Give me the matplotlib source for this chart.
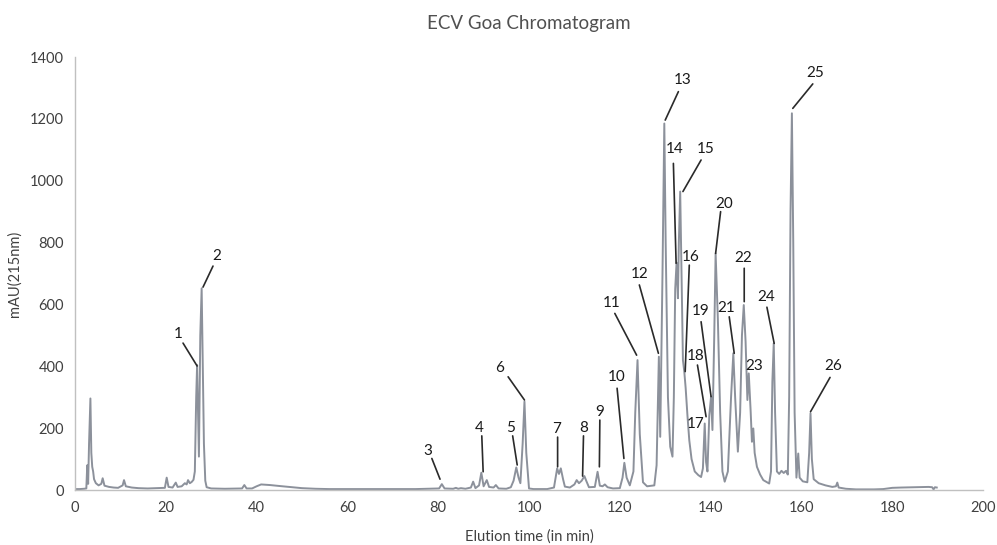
import matplotlib.pyplot as plt

# chromatogram trace (time in min, signal in mAU)
time_min = [
    0.0, 1.0, 2.0, 2.5, 2.7, 2.9, 3.1, 3.4, 3.6, 3.8, 4.0, 4.2, 4.6, 5.2, 5.8, 6.1, 6.5,
    7.5, 8.5, 9.5, 10.5, 10.8, 11.2, 12.5, 14.0, 16.0, 18.0, 19.8, 20.2, 20.6, 21.5,
    22.2, 22.6, 23.5, 24.2, 24.6, 24.9, 25.3, 25.7, 26.1, 26.4, 26.7, 26.9, 27.1, 27.3,
    27.6, 27.9, 28.1, 28.4, 28.7, 29.0, 30.0, 33.0, 36.8, 37.3, 37.8, 39.0, 40.0, 41.0,
    43.0, 45.0, 48.0, 50.0, 53.0, 56.0, 60.0, 65.0, 70.0, 75.0, 78.0, 80.2, 80.8, 81.4,
    83.3, 83.9, 84.4, 85.0, 86.0, 87.2, 87.7, 88.2, 89.0, 89.5, 90.0, 90.7, 91.2, 92.2,
    92.7, 93.3, 95.0, 96.0, 96.6, 97.2, 97.7, 98.1, 98.6, 99.0, 99.4, 100.0, 101.0,
    104.0, 105.5, 106.2, 106.6, 107.0, 107.5, 107.9, 109.0, 110.0, 110.5, 111.0, 111.6,
    112.2, 112.6, 113.2, 114.5, 115.1, 115.6, 116.2, 116.7, 117.3, 118.5, 120.0, 120.6,
    121.0, 121.5, 122.2, 123.0, 123.4, 123.9, 124.4, 125.1, 126.0, 127.6, 128.1, 128.4,
    128.6, 128.9, 129.4, 129.8, 130.1, 130.6, 131.1, 131.6, 131.9, 132.2, 132.5, 132.8,
    133.0, 133.3, 133.6, 133.9, 134.2, 134.5, 134.9, 135.3, 135.8, 136.5, 137.3, 137.9,
    138.3, 138.7, 139.0, 139.3, 139.7, 140.1, 140.4, 140.8, 141.1, 141.6, 142.1, 142.6,
    143.1, 143.8, 144.5, 145.0, 145.4, 146.0, 146.5, 146.9, 147.3, 147.7, 148.1, 148.4,
    148.8, 149.1, 149.4, 149.7, 150.2, 150.9, 151.6, 152.9, 153.3, 153.6, 153.9, 154.2,
    154.6, 155.1, 155.6, 156.1, 156.6, 157.0, 157.3, 157.6, 157.9, 158.2, 158.5, 158.9,
    159.3, 159.6, 160.3, 161.3, 161.7, 162.0, 162.3, 162.7, 163.8, 165.3, 166.8, 167.6,
    167.9, 168.2, 169.8, 172.0, 176.0, 178.0, 180.0, 182.0, 185.0, 188.0, 188.8, 189.1,
    189.4, 189.8,
]
mau = [
    3, 3, 4, 5, 80, 20, 150, 296, 120, 75, 60, 35, 22, 15, 20, 38, 14,
    10, 8, 7, 15, 32, 12, 8, 6, 5, 6, 7, 40, 10, 8,
    24, 10, 12, 22, 18, 32, 22, 26, 33, 60, 300, 404, 250, 108,
    500, 652, 450, 150, 30, 9, 5, 4, 5, 16, 5, 5, 12, 18,
    16, 13, 9, 6, 4, 3, 3, 3, 3, 3, 4, 5, 19, 5,
    4, 7, 4, 6, 4, 8, 27, 6, 15, 56, 12, 32, 10, 8,
    16, 5, 4, 9, 30, 73, 40, 22, 150, 286, 120, 5, 3,
    3, 8, 70, 52, 70, 35, 11, 8, 18, 32, 22, 30,
    45, 30, 9, 10, 59, 14, 12, 18, 9, 5, 6, 40,
    88, 40, 15, 60, 250, 420, 180, 25, 12, 15, 80, 300,
    431, 172, 700, 1185, 800, 300, 140, 108, 300, 650, 735, 620,
    800, 965, 700, 420, 383, 330, 240, 161, 100, 60, 48, 42,
    70, 215, 90, 60, 240, 302, 194, 500, 765, 550, 250, 60,
    27, 60, 300, 442, 300, 124, 250, 500, 598, 480, 291, 377,
    260, 156, 199, 120, 75, 50, 32, 21, 60, 350, 474, 250,
    60, 52, 62, 55, 62, 50, 300, 900, 1218, 800, 250, 40,
    118, 40, 28, 25, 120, 248, 100, 35, 22, 15, 10, 12,
    24, 8, 4, 2, 2, 3, 7, 8, 9, 10, 9, 2,
    9, 8,
]

peak_labels = [str(i) for i in range(1, 27)]
# label layout: text position, leader start, leader end (data units); None = no leader
label_layout = [
    ((22.7, 504), (23.8, 475), (26.9, 401)),
    ((31.3, 757), (30.4, 724), (28.2, 656)),
    ((77.6, 127), (78.6, 102), (80.4, 35)),
    ((89.1, 201), (89.6, 175), (89.9, 59)),
    ((96.0, 201), (96.4, 175), (97.4, 81)),
    ((93.5, 393), (95.4, 366), (99.0, 291)),
    ((106.1, 196), (106.3, 171), (106.3, 75)),
    ((112.0, 201), (112.0, 175), (111.8, 45)),
    ((115.6, 253), (115.6, 226), (115.5, 75)),
    ((119.2, 366), (119.4, 329), (120.9, 102)),
    ((118.2, 606), (118.9, 571), (123.7, 436)),
    ((124.3, 700), (124.3, 663), (128.5, 442)),
    ((133.8, 1326), (132.9, 1288), (130.0, 1196)),
    ((132.0, 1101), (131.8, 1056), (132.4, 733)),
    ((138.8, 1101), (137.9, 1067), (133.9, 965)),
    ((135.6, 754), (135.3, 727), (134.4, 383)),
    ((136.8, 212), None, None),
    ((136.8, 433), (137.1, 404), (139.0, 237)),
    ((137.8, 580), (137.9, 544), (140.1, 302)),
    ((143.0, 925), (142.2, 900), (141.1, 765)),
    ((143.5, 590), (144.1, 560), (145.2, 442)),
    ((147.1, 749), (147.4, 717), (147.4, 609)),
    ((149.6, 401), None, None),
    ((152.2, 623), (152.4, 591), (154.0, 474)),
    ((163.0, 1347), (162.5, 1313), (158.1, 1234)),
    ((166.9, 401), (166.3, 364), (162.0, 253)),
]

plt.rcParams['font.family'] = ['Lato', 'DejaVu Sans']

fig = plt.figure(figsize=(9.97, 5.45), dpi=100)
ax = fig.add_axes([0.0752, 0.1009, 0.9108, 0.7945])

ax.plot(time_min, mau, color='#8c919b', linewidth=1.4)

for label, (txt, start, end) in zip(peak_labels, label_layout):
    ax.text(txt[0], txt[1], label, ha='center', va='center', fontsize=11, color='#1a1a1a')
    if start is not None:
        ax.annotate('', xy=end, xytext=start,
                    arrowprops=dict(arrowstyle='-', color='#2a2a2a', lw=1.2,
                                    shrinkA=0, shrinkB=0))

ax.set_xlim(0, 200)
ax.set_ylim(0, 1400)
ax.set_xticks(range(0, 201, 20))
ax.set_yticks(range(0, 1401, 200))
ax.tick_params(length=0, labelsize=10.5, colors='#404040', pad=8)
for side in ['top', 'right']:
    ax.spines[side].set_visible(False)
for side in ['left', 'bottom']:
    ax.spines[side].set_color('#c0c0c0')
    ax.spines[side].set_linewidth(1.0)

ax.set_title('ECV Goa Chromatogram', fontsize=13.5, color='#505050', pad=20)
ax.set_xlabel('Elution time (in min)', fontsize=10.5, color='#404040', labelpad=10)
ax.set_ylabel('mAU(215nm)', fontsize=10.5, color='#404040', labelpad=6)

fig.savefig('out.png', dpi=100)
